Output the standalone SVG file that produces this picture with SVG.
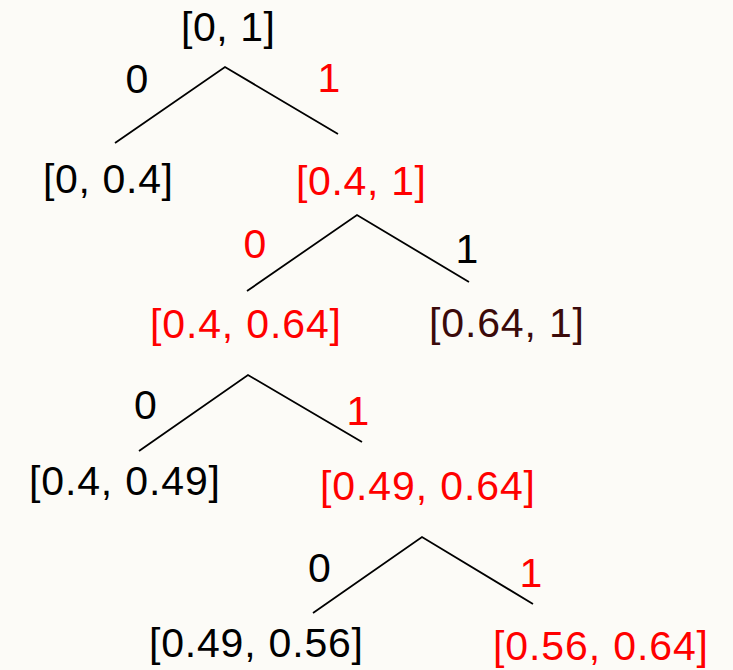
<svg xmlns="http://www.w3.org/2000/svg" width="733" height="670" viewBox="0 0 733 670">
<style>
text{font-family:"Liberation Sans",Arial,sans-serif;font-size:41px;text-anchor:middle;fill:#000}
.r{fill:#FF0000}
.d{fill:#3B0A0A}
.e{stroke:#000;stroke-width:1.8;fill:none}
</style>
<rect width="733" height="670" fill="#FCFBF7"/>
<g id="connectors">
<path class="e" d="M115,143 L225,67 L338,134"/>
<path class="e" d="M247,291 L357,215 L469,282"/>
<path class="e" d="M139,451 L248,375 L362,442"/>
<path class="e" d="M313,613 L422,537 L533,604"/>
<text x="137" y="93">0</text>
<text class="r" x="329" y="92">1</text>
<text class="r" x="255" y="258">0</text>
<text x="467" y="263">1</text>
<text x="145.5" y="419">0</text>
<text class="r" x="358" y="425">1</text>
<text x="319.5" y="582">0</text>
<text class="r" x="531" y="587">1</text>
</g>
<g id="n-root"><text x="228" y="41" textLength="94">[0, 1]</text></g>
<g id="n-0"><text x="108" y="193" textLength="130">[0, 0.4]</text></g>
<g id="n-1"><text class="r" x="361" y="195" textLength="130">[0.4, 1]</text></g>
<g id="n-10"><text class="r" x="245.5" y="338" textLength="191">[0.4, 0.64]</text></g>
<g id="n-11"><text class="d" x="506.5" y="337" textLength="155">[0.64, 1]</text></g>
<g id="n-100"><text x="124.5" y="495" textLength="191">[0.4, 0.49]</text></g>
<g id="n-101"><text class="r" x="427.5" y="500" textLength="215">[0.49, 0.64]</text></g>
<g id="n-1010"><text x="256" y="657" textLength="214">[0.49, 0.56]</text></g>
<g id="n-1011"><text class="r" x="600.5" y="660" textLength="215">[0.56, 0.64]</text></g>
</svg>
